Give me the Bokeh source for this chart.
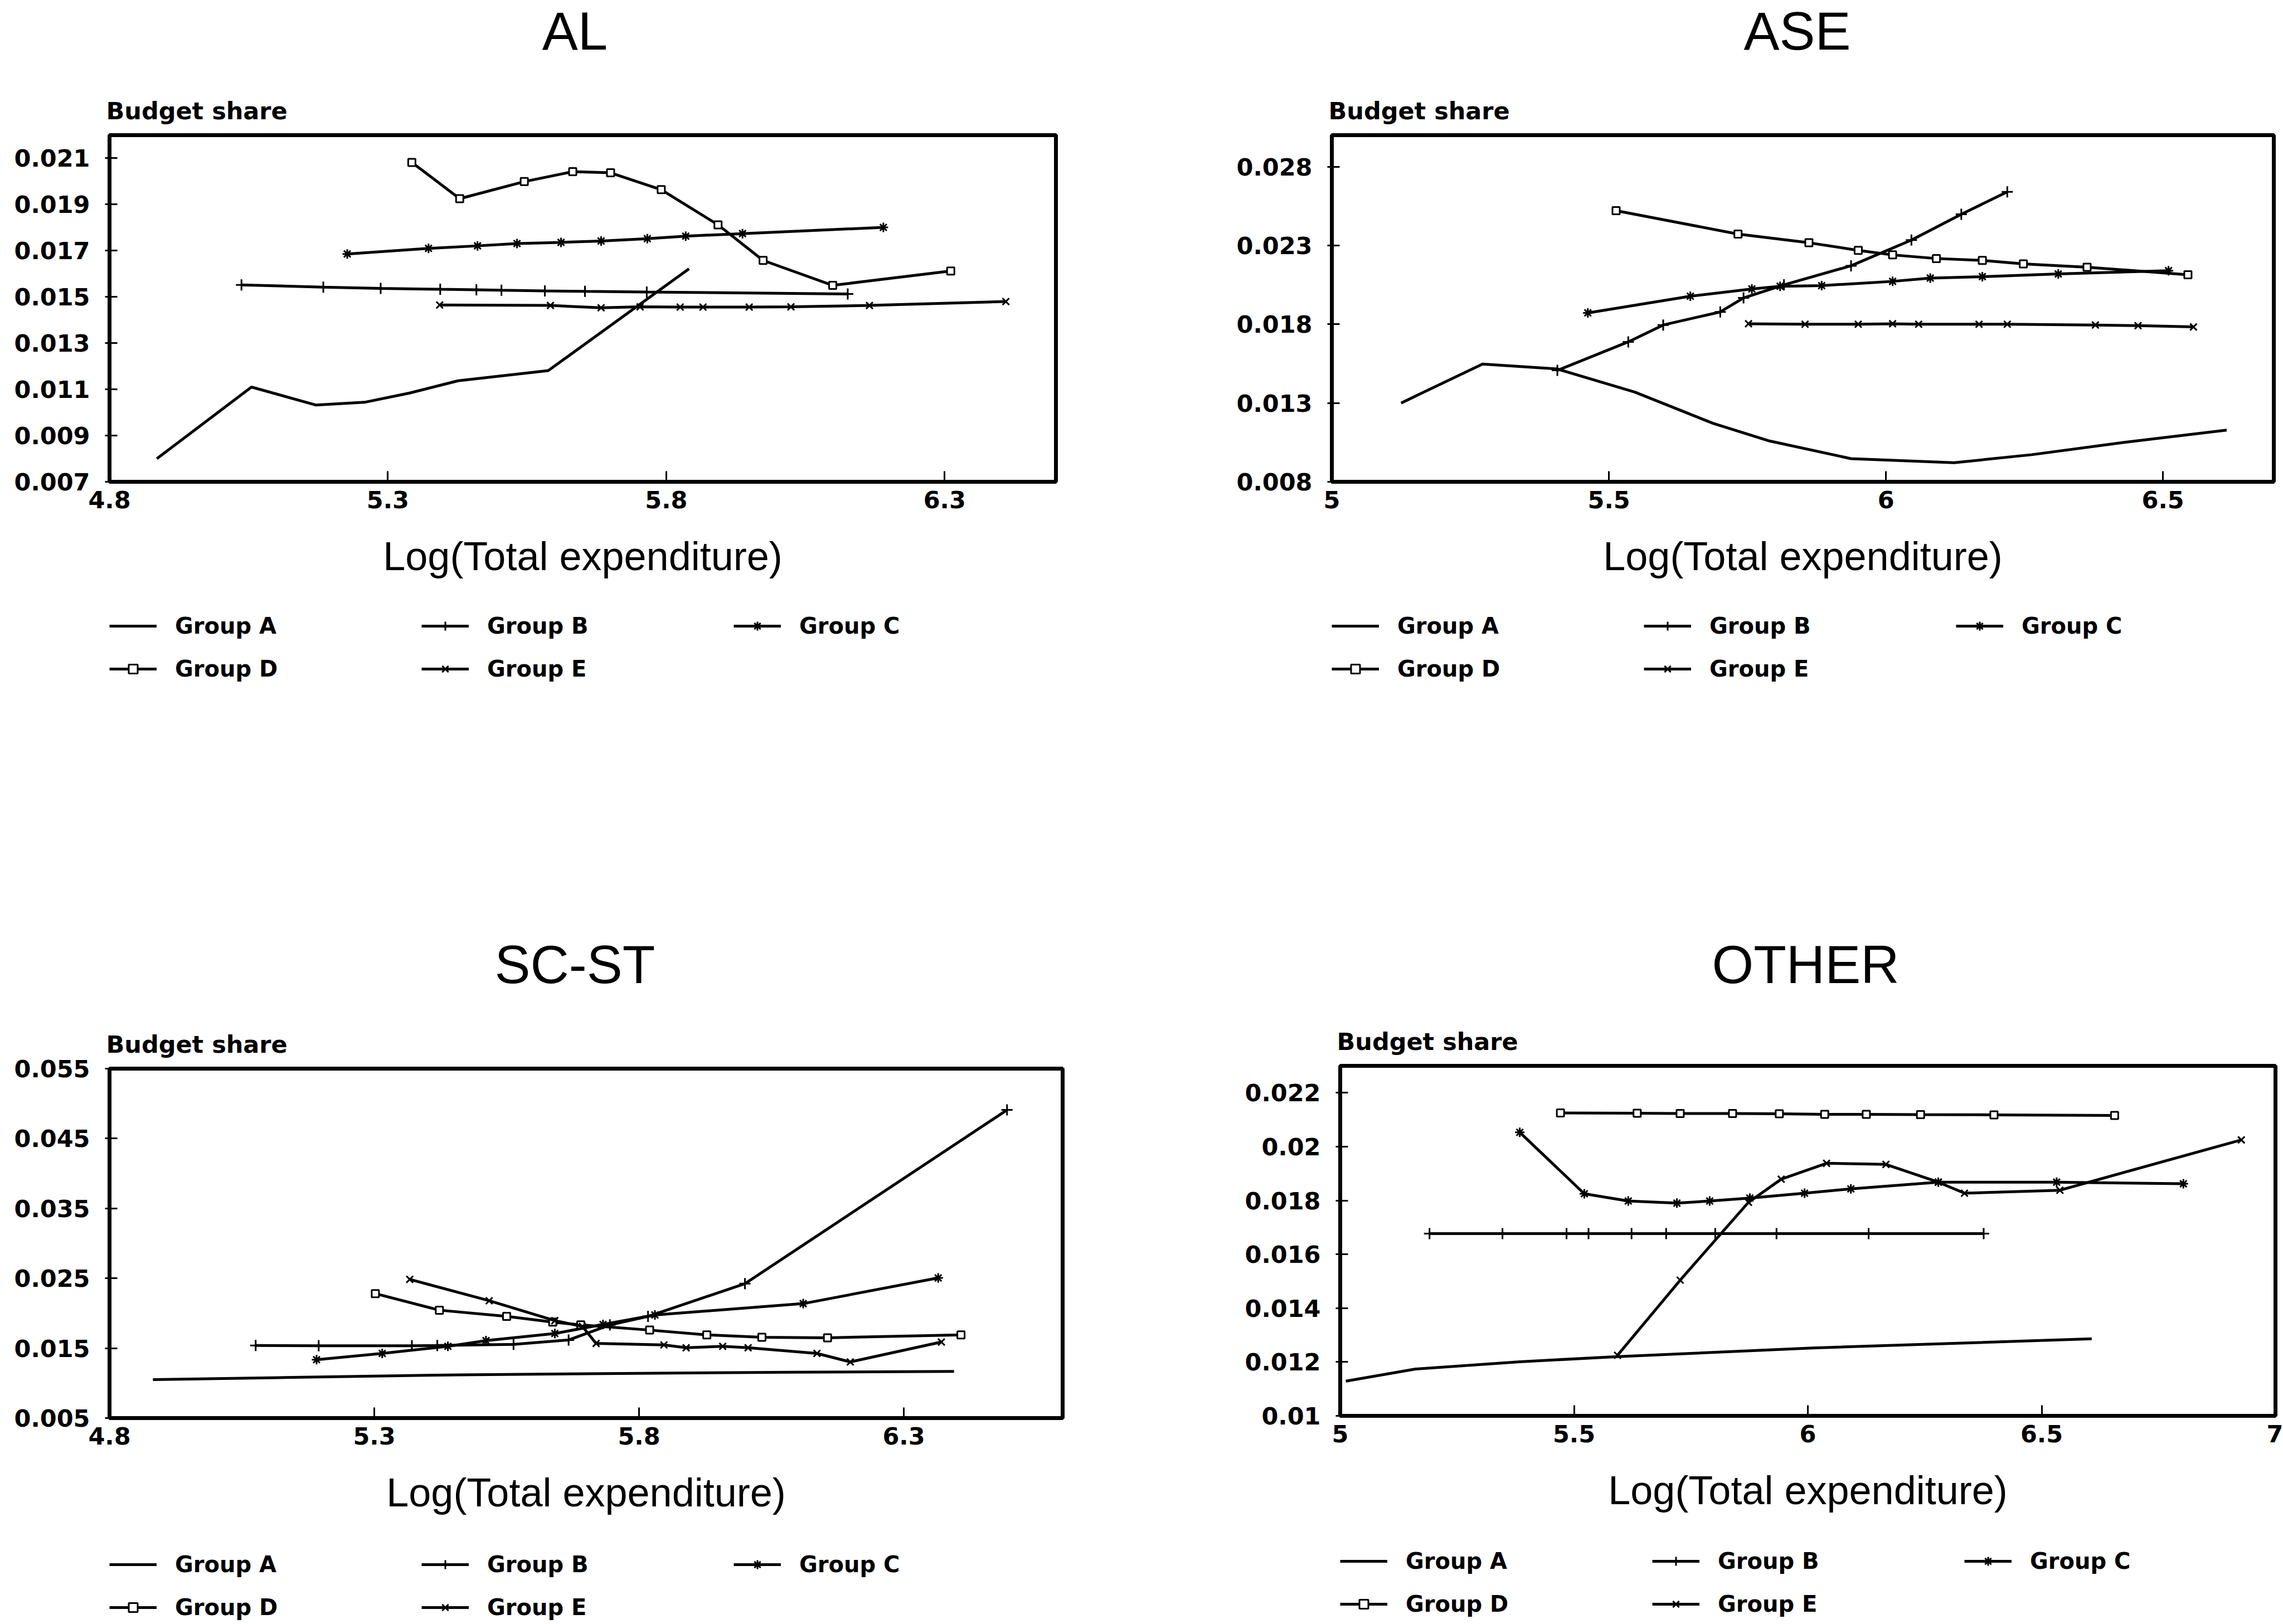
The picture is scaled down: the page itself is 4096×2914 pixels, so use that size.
from bokeh.plotting import figure
from bokeh.layouts import column, row
from bokeh.models import Label, Legend, LegendItem, FixedTicker, Range1d, Title
from bokeh.embed import file_html
from bokeh.resources import INLINE

# ---------------- data ----------------
groups = ["Group A", "Group B", "Group C", "Group D", "Group E"]

# AL
al_a_x = [4.885, 5.055, 5.171, 5.258, 5.339, 5.426, 5.588, 5.841]
al_a_y = [0.0080, 0.0111, 0.01032, 0.01044, 0.01084, 0.01137, 0.01181, 0.01622]
al_b_x = [5.037, 5.184, 5.287, 5.394, 5.459, 5.504, 5.582, 5.654, 5.765, 6.126]
al_b_y = [0.01552, 0.01542, 0.01537, 0.01533, 0.01531, 0.01529, 0.01526, 0.01524, 0.01521, 0.01513]
al_c_x = [5.227, 5.373, 5.461, 5.532, 5.611, 5.683, 5.766, 5.835, 5.937, 6.19]
al_c_y = [0.01686, 0.0171, 0.01721, 0.01731, 0.01736, 0.01742, 0.01752, 0.01763, 0.01774, 0.01801]
al_d_x = [5.343, 5.429, 5.545, 5.632, 5.700, 5.791, 5.893, 5.974, 6.099, 6.311]
al_d_y = [0.02082, 0.01925, 0.01999, 0.02042, 0.02037, 0.01964, 0.01812, 0.01658, 0.0155, 0.01612]
al_e_x = [5.393, 5.592, 5.683, 5.753, 5.825, 5.866, 5.949, 6.024, 6.165, 6.410]
al_e_y = [0.01465, 0.01463, 0.01453, 0.01457, 0.01456, 0.01456, 0.01456, 0.01457, 0.01463, 0.0148]

# ASE
ase_a_x = [5.125, 5.272, 5.407, 5.547, 5.688, 5.79, 5.937, 6.123, 6.263, 6.43, 6.615]
ase_a_y = [0.0130, 0.01547, 0.01516, 0.01369, 0.01171, 0.01059, 0.00947, 0.00921, 0.00972, 0.0105, 0.01128]
ase_b_x = [5.407, 5.535, 5.598, 5.701, 5.743, 5.816, 5.937, 6.046, 6.136, 6.219]
ase_b_y = [0.01507, 0.01688, 0.01795, 0.01878, 0.01967, 0.0205, 0.02171, 0.02334, 0.02498, 0.0264]
ase_c_x = [5.462, 5.647, 5.758, 5.809, 5.884, 6.012, 6.08, 6.174, 6.311, 6.51]
ase_c_y = [0.01872, 0.01978, 0.02024, 0.02041, 0.02045, 0.02072, 0.02093, 0.02102, 0.02119, 0.0214]
ase_d_x = [5.513, 5.733, 5.861, 5.95, 6.012, 6.091, 6.174, 6.248, 6.363, 6.545]
ase_d_y = [0.02521, 0.02372, 0.02317, 0.02269, 0.0224, 0.02217, 0.02205, 0.02183, 0.02162, 0.02114]
ase_e_x = [5.752, 5.854, 5.95, 6.012, 6.059, 6.168, 6.219, 6.378, 6.455, 6.555]
ase_e_y = [0.01803, 0.018, 0.018, 0.01803, 0.018, 0.018, 0.018, 0.01795, 0.01791, 0.01783]

# SC-ST
sc_a_x = [4.882, 5.119, 5.458, 5.797, 6.084, 6.395]
sc_a_y = [0.0105, 0.01079, 0.01119, 0.0114, 0.01156, 0.01168]
sc_b_x = [5.076, 5.195, 5.371, 5.419, 5.563, 5.667, 5.745, 5.817, 6.0, 6.495]
sc_b_y = [0.01539, 0.01535, 0.01535, 0.01539, 0.01555, 0.01617, 0.01833, 0.01955, 0.02423, 0.04909]
sc_c_x = [5.191, 5.315, 5.439, 5.511, 5.641, 5.732, 5.83, 6.110, 6.365]
sc_c_y = [0.01335, 0.01425, 0.01527, 0.01608, 0.0171, 0.0184, 0.01975, 0.02138, 0.02505]
sc_d_x = [5.302, 5.423, 5.55, 5.637, 5.69, 5.82, 5.928, 6.032, 6.156, 6.408]
sc_d_y = [0.02281, 0.02044, 0.01955, 0.01873, 0.01833, 0.01759, 0.0169, 0.01657, 0.01649, 0.0169]
sc_e_x = [5.367, 5.517, 5.641, 5.693, 5.719, 5.847, 5.889, 5.958, 6.006, 6.136, 6.199, 6.371]
sc_e_y = [0.02485, 0.02179, 0.01894, 0.01812, 0.01568, 0.01547, 0.01506, 0.01527, 0.01506, 0.01425, 0.01303, 0.01588]

# OTHER
ot_a_x = [5.012, 5.161, 5.384, 5.593, 6.010, 6.607]
ot_a_y = [0.01129, 0.01174, 0.01201, 0.0122, 0.01252, 0.01286]
ot_b_x = [5.191, 5.347, 5.484, 5.531, 5.623, 5.697, 5.802, 5.933, 6.13, 6.376]
ot_b_y = [0.01677, 0.01677, 0.01677, 0.01677, 0.01677, 0.01677, 0.01677, 0.01677, 0.01677, 0.01677]
ot_c_x = [5.384, 5.522, 5.616, 5.72, 5.79, 5.876, 5.993, 6.092, 6.279, 6.532, 6.803]
ot_c_y = [0.02053, 0.01825, 0.01798, 0.0179, 0.01798, 0.01809, 0.01827, 0.01843, 0.01868, 0.01868, 0.01862]
ot_d_x = [5.471, 5.635, 5.727, 5.839, 5.939, 6.036, 6.125, 6.241, 6.398, 6.656]
ot_d_y = [0.02125, 0.02124, 0.02123, 0.02123, 0.02122, 0.0212, 0.0212, 0.02119, 0.02118, 0.02116]
ot_e_x = [5.593, 5.727, 5.873, 5.943, 6.04, 6.167, 6.279, 6.335, 6.539, 6.927]
ot_e_y = [0.01225, 0.01504, 0.01793, 0.01879, 0.01938, 0.01934, 0.01868, 0.01827, 0.01838, 0.02025]

# axis ticks / labels
al_xticks = [4.8, 5.3, 5.8, 6.3]
al_xlabels = ["4.8", "5.3", "5.8", "6.3"]
al_yticks = [0.007, 0.009, 0.011, 0.013, 0.015, 0.017, 0.019, 0.021]
al_ylabels = ["0.007", "0.009", "0.011", "0.013", "0.015", "0.017", "0.019", "0.021"]
ase_xticks = [5, 5.5, 6, 6.5]
ase_xlabels = ["5", "5.5", "6", "6.5"]
ase_yticks = [0.008, 0.013, 0.018, 0.023, 0.028]
ase_ylabels = ["0.008", "0.013", "0.018", "0.023", "0.028"]
sc_xticks = [4.8, 5.3, 5.8, 6.3]
sc_xlabels = ["4.8", "5.3", "5.8", "6.3"]
sc_yticks = [0.005, 0.015, 0.025, 0.035, 0.045, 0.055]
sc_ylabels = ["0.005", "0.015", "0.025", "0.035", "0.045", "0.055"]
ot_xticks = [5, 5.5, 6, 6.5, 7]
ot_xlabels = ["5", "5.5", "6", "6.5", "7"]
ot_yticks = [0.010, 0.012, 0.014, 0.016, 0.018, 0.020, 0.022]
ot_ylabels = ["0.01", "0.012", "0.014", "0.016", "0.018", "0.02", "0.022"]

# ---------------- styling ----------------
MARKERS = [None, "cross", "asterisk", "square", "x"]
MSIZE = [0, 20, 17, 13, 17]
BOLD_FONT = "DejaVu Sans"
PLAIN_FONT = "Liberation Sans"
LW = 5
TOPB = 100  # main figure top border (holds "Budget share")


def blank_fig(width, height, left):
    f = figure(width=width, height=height, x_range=Range1d(0, 1),
               y_range=Range1d(0, 1), x_axis_location=None,
               y_axis_location=None, output_backend="svg",
               toolbar_location=None, min_border_left=left,
               min_border_right=0, min_border_top=0, min_border_bottom=0)
    f.outline_line_color = None
    f.xgrid.visible = False
    f.ygrid.visible = False
    f.background_fill_color = "white"
    f.border_fill_color = "white"
    return f


def make_quadrant(title, series, xr, yr, xt, xl, yt, yl, width,
                  frame_top, frame_left, frame_right_border, frame_h, bb,
                  leg_h, leg_dx):
    # heading: panel title
    head_h = frame_top - TOPB
    head = blank_fig(width, head_h, frame_left - 10)
    head.add_layout(Label(x=835, y=87 + (frame_top - 242), x_units="screen",
                          y_units="screen", text=title, text_align="center",
                          text_baseline="alphabetic", text_font=PLAIN_FONT,
                          text_font_size="96px", text_color="black"))

    # main plot
    main_h = TOPB + frame_h + bb
    p = figure(width=width, height=main_h,
               x_range=Range1d(*xr), y_range=Range1d(*yr),
               output_backend="svg", toolbar_location=None,
               min_border_left=frame_left, min_border_right=frame_right_border,
               min_border_top=TOPB, min_border_bottom=bb)
    p.add_layout(Title(text="Budget share", align="left", offset=-6,
                       standoff=38, text_font=BOLD_FONT,
                       text_font_style="bold", text_font_size="43px",
                       text_color="black"), "above")
    p.background_fill_color = "white"
    p.border_fill_color = "white"
    p.outline_line_color = "black"
    p.outline_line_width = 7
    p.xgrid.visible = False
    p.ygrid.visible = False
    p.xaxis.ticker = FixedTicker(ticks=xt)
    p.xaxis.major_label_overrides = {t: l for t, l in zip(xt, xl)}
    p.yaxis.ticker = FixedTicker(ticks=yt)
    p.yaxis.major_label_overrides = {t: l for t, l in zip(yt, yl)}
    for ax in (p.xaxis, p.yaxis):
        ax.axis_line_width = 7
        ax.axis_line_color = "black"
        ax.major_tick_line_color = "black"
        ax.major_tick_line_width = 3
        ax.minor_tick_line_color = None
        ax.major_label_text_font = BOLD_FONT
        ax.major_label_text_font_style = "bold"
        ax.major_label_text_font_size = "43px"
        ax.major_label_text_color = "black"
    p.xaxis.major_tick_in = 19
    p.xaxis.major_tick_out = 0
    p.xaxis.major_label_standoff = 16
    p.yaxis.major_tick_in = 14
    p.yaxis.major_tick_out = 8
    p.yaxis.major_label_standoff = 27
    p.xaxis.axis_label = "Log(Total expenditure)"
    p.xaxis.axis_label_text_font = PLAIN_FONT
    p.xaxis.axis_label_text_font_style = "normal"
    p.xaxis.axis_label_text_font_size = "72px"
    p.xaxis.axis_label_text_color = "black"
    p.xaxis.axis_label_standoff = 43

    for i, (xs, ys) in enumerate(series):
        p.line(xs, ys, line_color="black", line_width=LW)
        if MARKERS[i]:
            p.scatter(xs, ys, marker=MARKERS[i], size=MSIZE[i],
                      line_color="black", fill_color="white", line_width=3)

    # legend strip; its keys reuse the series (which lie outside this strip's view)
    leg = blank_fig(width, leg_h, frame_left + leg_dx)
    items = []
    for i, (xs, ys) in enumerate(series):
        rs = [leg.line(xs, ys, line_color="black", line_width=LW)]
        if MARKERS[i]:
            rs.append(leg.scatter(xs, ys, marker=MARKERS[i], size=MSIZE[i],
                                  line_color="black", fill_color="white",
                                  line_width=3))
        items.append(LegendItem(label=groups[i], renderers=rs))
    lg = Legend(items=items, location="top_left", orientation="horizontal",
                ncols=3, glyph_width=85, glyph_height=40, label_height=40,
                label_width=411, label_standoff=33, spacing=31, padding=0,
                margin=0, border_line_alpha=0, background_fill_alpha=0,
                label_text_font=BOLD_FONT, label_text_font_style="bold",
                label_text_font_size="40px", label_text_color="black")
    leg.add_layout(lg, "center")
    return column(head, p, leg, spacing=0)


q_al = make_quadrant("AL",
                     [(al_a_x, al_a_y), (al_b_x, al_b_y), (al_c_x, al_c_y),
                      (al_d_x, al_d_y), (al_e_x, al_e_y)],
                     (4.8, 6.5), (0.007, 0.022), al_xticks, al_xlabels,
                     al_yticks, al_ylabels,
                     2070, 242, 196, 176, 622, 236, 575, 0)
q_ase = make_quadrant("ASE",
                      [(ase_a_x, ase_a_y), (ase_b_x, ase_b_y), (ase_c_x, ase_c_y),
                       (ase_d_x, ase_d_y), (ase_e_x, ase_e_y)],
                      (5.0, 6.7), (0.008, 0.030), ase_xticks, ase_xlabels,
                      ase_yticks, ase_ylabels,
                      2026, 242, 315, 17, 622, 236, 575, 4)
q_sc = make_quadrant("SC-ST",
                     [(sc_a_x, sc_a_y), (sc_b_x, sc_b_y), (sc_c_x, sc_c_y),
                      (sc_d_x, sc_d_y), (sc_e_x, sc_e_y)],
                     (4.8, 6.6), (0.005, 0.055), sc_xticks, sc_xlabels,
                     sc_yticks, sc_ylabels,
                     2070, 242, 196, 164, 627, 240, 130, 0)
q_ot = make_quadrant("OTHER",
                     [(ot_a_x, ot_a_y), (ot_b_x, ot_b_y), (ot_c_x, ot_c_y),
                      (ot_d_x, ot_d_y), (ot_e_x, ot_e_y)],
                     (5.0, 7.0), (0.010, 0.023), ot_xticks, ot_xlabels,
                     ot_yticks, ot_ylabels,
                     2026, 237, 329, 14, 628, 238, 136, 5)

layout = column(row(q_al, q_ase, spacing=0), row(q_sc, q_ot, spacing=0),
                spacing=0)

open("out.html", "w").write(file_html(layout, INLINE))
